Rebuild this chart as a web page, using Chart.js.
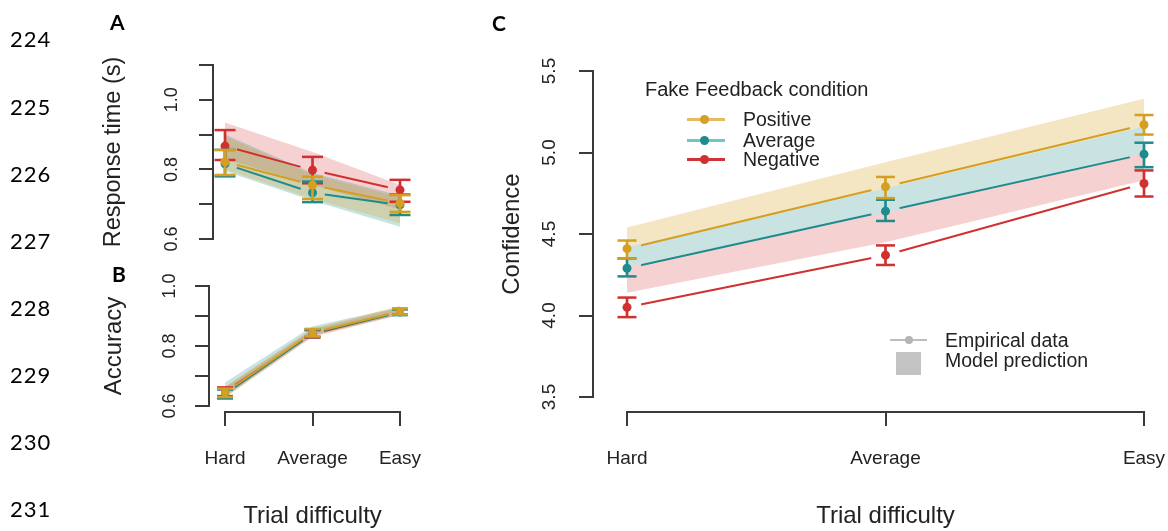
<!DOCTYPE html>
<html>
<head>
<meta charset="utf-8">
<title>Response time, accuracy and confidence by trial difficulty</title>
<script src="https://cdn.jsdelivr.net/npm/chart.js@4.4.1/dist/chart.umd.min.js"></script>
<style>
  html, body { margin:0; padding:0; background:#fff; }
  body { position:relative; width:1168px; height:531px; overflow:hidden; }
  canvas { position:absolute; left:0; top:0; }
  .txt { position:absolute; white-space:nowrap; font-family:"Liberation Sans", Arial, sans-serif; color:#222; }
  .lnum { position:absolute; left:10px; font-family:Lato, "Open Sans", sans-serif; font-size:22px; line-height:22px; letter-spacing:1px; color:#000; }
  .panel { position:absolute; font-family:Lato, "Open Sans", sans-serif; font-weight:bold; font-size:21px; line-height:21px; color:#000; }
  .mk { position:absolute; }
</style>
</head>
<body>
<canvas id="chartA" width="1168" height="531"></canvas>
<canvas id="chartB" width="1168" height="531"></canvas>
<canvas id="chartC" width="1168" height="531"></canvas>

<div id="lines"></div>
<div class="panel" style="left:110px;top:11px">A</div>
<div class="panel" style="left:112px;top:263px">B</div>
<div class="panel" style="left:492px;top:12px">C</div>

<!-- legend, panel C -->
<div class="txt" style="left:645px;top:79px;font-size:20px;line-height:20px">Fake Feedback condition</div>
<div class="mk" style="left:687px;top:118px;width:38px;height:3px;background:rgb(228,186,98)"></div>
<div class="mk" style="left:700px;top:115px;width:9px;height:9px;border-radius:50%;background:#d59f22"></div>
<div class="txt" style="left:743px;top:110px;font-size:19.5px;line-height:19.5px">Positive</div>
<div class="mk" style="left:687px;top:139px;width:38px;height:3px;background:rgb(110,198,198)"></div>
<div class="mk" style="left:700px;top:136px;width:9px;height:9px;border-radius:50%;background:#1e8c8c"></div>
<div class="txt" style="left:743px;top:131px;font-size:19.5px;line-height:19.5px">Average</div>
<div class="mk" style="left:687px;top:158px;width:38px;height:3px;background:rgb(208,52,52)"></div>
<div class="mk" style="left:700px;top:155px;width:9px;height:9px;border-radius:50%;background:#d0302f"></div>
<div class="txt" style="left:743px;top:150px;font-size:19.5px;line-height:19.5px">Negative</div>

<div class="mk" style="left:890px;top:339px;width:37px;height:2px;background:#bdbdbd"></div>
<div class="mk" style="left:905px;top:336px;width:8px;height:8px;border-radius:50%;background:#b5b5b5"></div>
<div class="txt" style="left:945px;top:331px;font-size:19.5px;line-height:19.5px">Empirical data</div>
<div class="mk" style="left:896px;top:352px;width:25px;height:23px;background:#c3c3c3"></div>
<div class="txt" style="left:945px;top:351px;font-size:19.5px;line-height:19.5px">Model prediction</div>

<script>
// ---------------- data ----------------
const difficulty = ['Hard', 'Average', 'Easy'];
const conditions = ['Positive', 'Average', 'Negative'];
const lineNumbers = ['224', '225', '226', '227', '228', '229', '230', '231'];

// Panel A - response time (s)
const rtPositive     = [0.822, 0.755, 0.703];
const rtPositiveLow  = [0.784, 0.715, 0.678];
const rtPositiveHigh = [0.856, 0.779, 0.726];
const rtAverage      = [0.816, 0.733, 0.698];
const rtAverageLow   = [0.780, 0.706, 0.669];
const rtAverageHigh  = [0.856, 0.765, 0.728];
const rtNegative     = [0.867, 0.798, 0.741];
const rtNegativeLow  = [0.827, 0.760, 0.707];
const rtNegativeHigh = [0.913, 0.836, 0.770];
const rtModelPositiveLow  = [0.800, 0.715, 0.645];
const rtModelPositiveHigh = [0.895, 0.785, 0.720];
const rtModelAverageLow   = [0.795, 0.710, 0.635];
const rtModelAverageHigh  = [0.900, 0.790, 0.725];
const rtModelNegativeLow  = [0.830, 0.755, 0.685];
const rtModelNegativeHigh = [0.935, 0.850, 0.755];
const rtTickLabels = ['0.6', '', '0.8', '', '1.0', ''];

// Panel B - accuracy
const accPositive     = [0.645, 0.845, 0.915];
const accPositiveLow  = [0.630, 0.832, 0.905];
const accPositiveHigh = [0.658, 0.857, 0.925];
const accAverage      = [0.640, 0.842, 0.912];
const accAverageLow   = [0.625, 0.830, 0.903];
const accAverageHigh  = [0.655, 0.855, 0.922];
const accNegative     = [0.648, 0.840, 0.914];
const accNegativeLow  = [0.633, 0.828, 0.905];
const accNegativeHigh = [0.662, 0.853, 0.924];
const accModelPositiveLow  = [0.630, 0.833, 0.905];
const accModelPositiveHigh = [0.665, 0.858, 0.933];
const accModelAverageLow   = [0.632, 0.835, 0.905];
const accModelAverageHigh  = [0.678, 0.866, 0.930];
const accModelNegativeLow  = [0.628, 0.830, 0.903];
const accModelNegativeHigh = [0.662, 0.855, 0.928];
const accTickLabels = ['0.6', '', '0.8', '', '1.0'];

// Panel C - confidence
const confPositive     = [4.41, 4.79, 5.17];
const confPositiveLow  = [4.35, 4.72, 5.11];
const confPositiveHigh = [4.46, 4.85, 5.23];
const confAverage      = [4.29, 4.64, 4.99];
const confAverageLow   = [4.24, 4.58, 4.91];
const confAverageHigh  = [4.35, 4.71, 5.06];
const confNegative     = [4.05, 4.37, 4.81];
const confNegativeLow  = [3.99, 4.31, 4.73];
const confNegativeHigh = [4.11, 4.43, 4.89];
const confModelPositiveLow  = [4.42, 4.78, 5.16];
const confModelPositiveHigh = [4.54, 4.94, 5.33];
const confModelAverageLow   = [4.30, 4.63, 5.00];
const confModelAverageHigh  = [4.42, 4.78, 5.16];
const confModelNegativeLow  = [4.14, 4.45, 4.83];
const confModelNegativeHigh = [4.30, 4.63, 5.00];
const confTickLabels = ['3.5', '4.0', '4.5', '5.0', '5.5'];

// ---------------- styles ----------------
const FONT = 'Liberation Sans';
const AXIS = '#3a3a3a';
const TEXT = '#222222';
const lineColor = { Positive: '#d59f22', Average: '#1e8c8c', Negative: '#d0302f' };
const bandColor = { Positive: 'rgba(213,159,34,0.27)', Average: 'rgba(30,140,140,0.24)', Negative: 'rgba(208,48,47,0.22)' };

// line numbers
document.getElementById('lines').innerHTML = lineNumbers.map((t, i) =>
  '<div class="lnum" style="top:' + (40 + i * 67.1 - 11.6).toFixed(1) + 'px">' + t + '</div>').join('');

// gaps around points for the empirical lines (R type "b")
const gapPlugin = {
  id: 'pointGaps',
  beforeDatasetDraw(chart, args) {
    const ds = chart.data.datasets[args.index];
    if (!ds.gapRadius) return;
    const ctx = chart.ctx;
    ctx.save();
    ctx.beginPath();
    ctx.rect(0, 0, chart.width, chart.height);
    args.meta.data.forEach(p => {
      ctx.moveTo(p.x + ds.gapRadius, p.y);
      ctx.arc(p.x, p.y, ds.gapRadius, 0, Math.PI * 2, true);
    });
    ctx.clip('evenodd');
  },
  afterDatasetDraw(chart, args) {
    const ds = chart.data.datasets[args.index];
    if (ds.gapRadius) chart.ctx.restore();
  }
};

const P = a => a.map((v, i) => ({ x: i, y: v }));

function seriesSets(name, rank, mean, lo, hi, mLo, mHi, st) {
  const c = lineColor[name];
  const base = rank * 10;
  const common = { xAxisID: 'x', yAxisID: 'y', clip: false };
  return [
    { ...common, type: 'line', label: name + ' model', data: P(mHi), borderColor: 'rgba(0,0,0,0)', borderWidth: 0, pointRadius: 0, fill: '+1', backgroundColor: bandColor[name], order: 1000 + base },
    { ...common, type: 'line', label: name + ' model low', data: P(mLo), borderColor: 'rgba(0,0,0,0)', borderWidth: 0, pointRadius: 0, fill: false, order: 1000 + base },
    { ...common, type: 'line', label: name, data: P(mean), borderColor: c, borderWidth: st.lineW, pointRadius: 0, fill: false, gapRadius: st.gapR, order: base + 4 },
    { ...common, type: 'bar', label: name + ' error', data: mean.map((v, i) => ({ x: i, y: [lo[i], hi[i]] })), backgroundColor: c, barThickness: st.stemW, grouped: false, order: base + 3 },
    { ...common, type: 'scatter', label: name + ' caps', data: P(lo).concat(P(hi)), pointStyle: 'line', pointRadius: st.capR, borderColor: c, backgroundColor: c, borderWidth: st.capW, order: base + 2 },
    { ...common, type: 'scatter', label: name + ' mean', data: P(mean), pointRadius: st.dotR, backgroundColor: c, borderColor: c, borderWidth: 0, order: base + 1 }
  ];
}

const axisGrid = { display: true, offset: false, drawOnChartArea: false, drawTicks: true, tickLength: 14, tickWidth: 2, tickColor: AXIS, color: AXIS, lineWidth: 2 };

function yScale(o) {
  return {
    type: 'linear', position: 'left', weight: 1, min: o.min, max: o.max, offset: false,
    afterFit: s => { s.width = o.width; },
    ticks: { stepSize: o.step, autoSkip: false, minRotation: 90, maxRotation: 90, crossAlign: 'center',
             padding: o.tickPad, color: TEXT, font: { family: FONT, size: o.tickSize },
             callback: (v, i) => o.labels[i] || '' },
    grid: { ...axisGrid },
    border: { display: true, color: AXIS, width: 2 },
    title: { display: true, text: o.title, color: TEXT, font: { family: FONT, size: o.titleSize, lineHeight: 1 }, padding: { top: o.titlePad, bottom: 0 } }
  };
}
function xScale(show) {
  return {
    type: 'linear', position: 'bottom', weight: 1, min: 0, max: 2, offset: false, display: show,
    afterFit: s => { if (show) s.height = 118; },
    ticks: { stepSize: 1, autoSkip: false, minRotation: 0, maxRotation: 0, padding: 0, color: TEXT,
             font: { family: FONT, size: 19, lineHeight: 3.5 }, callback: v => difficulty[v] || '' },
    grid: { ...axisGrid },
    border: { display: true, color: AXIS, width: 2 },
    title: { display: true, text: 'Trial difficulty', color: TEXT, font: { family: FONT, size: 24, lineHeight: 1 }, padding: { top: 0, bottom: 2 } }
  };
}
function gapScale(pos, size) {
  return {
    type: 'linear', position: pos, weight: 0, display: true, offset: false,
    ticks: { display: false }, grid: { display: false, drawTicks: false, offset: false }, border: { display: false },
    afterFit: s => { if (pos === 'left') s.width = size; else s.height = size; }
  };
}

function makeChart(id, datasets, scales, padding) {
  return new Chart(document.getElementById(id), {
    type: 'line',
    data: { datasets },
    options: {
      responsive: false, animation: false, events: [],
      layout: { autoPadding: false, padding },
      plugins: { legend: { display: false }, tooltip: { enabled: false } },
      scales
    },
    plugins: [gapPlugin]
  });
}

// ---------------- Panel A ----------------
const stA = { lineW: 2, gapR: 12.5, stemW: 2, capR: 10.5, capW: 2.5, dotR: 4.5 };
makeChart('chartA', [
  ...seriesSets('Positive', 0, rtPositive, rtPositiveLow, rtPositiveHigh, rtModelPositiveLow, rtModelPositiveHigh, stA),
  ...seriesSets('Average', 1, rtAverage, rtAverageLow, rtAverageHigh, rtModelAverageLow, rtModelAverageHigh, stA),
  ...seriesSets('Negative', 2, rtNegative, rtNegativeLow, rtNegativeHigh, rtModelNegativeLow, rtModelNegativeHigh, stA)
], {
  x: xScale(false),
  y: yScale({ min: 0.6, max: 1.1, step: 0.1, width: 120, tickPad: 14.5, tickSize: 18, labels: rtTickLabels, title: 'Response time (s)', titleSize: 23.5, titlePad: 8.5 }),
  ygap: gapScale('left', 12)
}, { left: 93, right: 768, top: 65, bottom: 292 });

// ---------------- Panel B ----------------
const stB = { lineW: 2, gapR: 12, stemW: 2, capR: 8, capW: 2.5, dotR: 4 };
makeChart('chartB', [
  ...seriesSets('Positive', 0, accPositive, accPositiveLow, accPositiveHigh, accModelPositiveLow, accModelPositiveHigh, stB),
  ...seriesSets('Average', 1, accAverage, accAverageLow, accAverageHigh, accModelAverageLow, accModelAverageHigh, stB),
  ...seriesSets('Negative', 2, accNegative, accNegativeLow, accNegativeHigh, accModelNegativeLow, accModelNegativeHigh, stB)
], {
  x: xScale(true),
  xgap: gapScale('bottom', 6),
  y: yScale({ min: 0.6, max: 1.0, step: 0.1, width: 120, tickPad: 12.5, tickSize: 18, labels: accTickLabels, title: 'Accuracy', titleSize: 24, titlePad: 13 }),
  ygap: gapScale('left', 16)
}, { left: 89, right: 768, top: 286, bottom: 1 });

// ---------------- Panel C ----------------
const stC = { lineW: 2, gapR: 14.5, stemW: 2, capR: 9.5, capW: 2.5, dotR: 4.5 };
makeChart('chartC', [
  ...seriesSets('Positive', 0, confPositive, confPositiveLow, confPositiveHigh, confModelPositiveLow, confModelPositiveHigh, stC),
  ...seriesSets('Average', 1, confAverage, confAverageLow, confAverageHigh, confModelAverageLow, confModelAverageHigh, stC),
  ...seriesSets('Negative', 2, confNegative, confNegativeLow, confNegativeHigh, confModelNegativeLow, confModelNegativeHigh, stC)
], {
  x: xScale(true),
  xgap: gapScale('bottom', 15),
  y: yScale({ min: 3.5, max: 5.5, step: 0.5, width: 100, tickPad: 16, tickSize: 19, labels: confTickLabels, title: 'Confidence', titleSize: 24, titlePad: 7 }),
  ygap: gapScale('left', 34)
}, { left: 493, right: 24, top: 71, bottom: 1 });
</script>
</body>
</html>
